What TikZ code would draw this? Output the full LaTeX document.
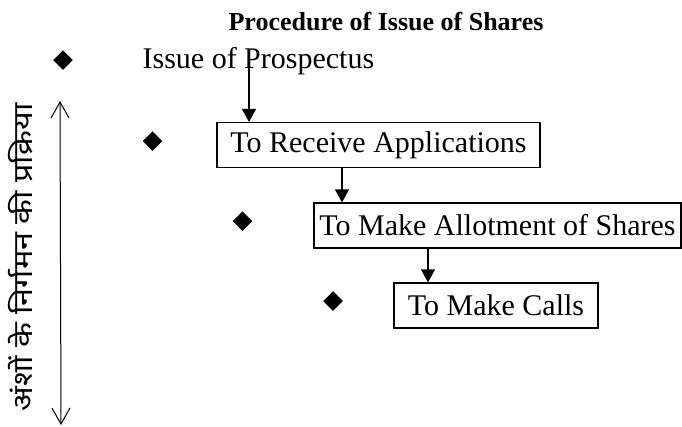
\documentclass[tikz,border=0pt]{standalone}
\usepackage{fontspec}
\setmainfont{Liberation Serif}
\newfontfamily\devfont[Script=Devanagari]{Noto Sans}
\usetikzlibrary{arrows.meta,shapes.geometric,positioning}

\begin{document}
\begin{tikzpicture}[x=1pt,y=1pt,line width=1.2pt,
                    >={Triangle[length=13pt,width=14pt]}]
  \tikzstyle{stage}=[draw,font=\fontsize{30}{36}\selectfont,
                     minimum height=45pt,inner sep=0pt]
  \tikzstyle{plain}=[inner sep=0pt,anchor=base west]
  \tikzstyle{bullet}=[diamond,fill,draw=none,inner sep=0pt,minimum size=20pt]
  \useasboundingbox (0,0) rectangle (682,-426);

  \node[plain,font=\bfseries\fontsize{26}{31}\selectfont] (title) at (228,-30)
       {Procedure of Issue of Shares};
  \node[plain,font=\fontsize{30}{36}\selectfont] (prosp) at (142,-68)
       {Issue of Prospectus};

  \node[stage,minimum width=323pt] (recv)  at (378.5,-145) {To Receive Applications};
  \node[stage,minimum width=367pt] (allot) at (497.5,-225.5) {To Make Allotment of Shares};
  \node[stage,minimum width=204pt] (calls) at (496,-305.5) {To Make Calls};

  \node[bullet] (b1) at (63,-60)    {};
  \node[bullet] (b2) at (152.5,-141) {};
  \node[bullet] (b3) at (242.5,-221) {};
  \node[bullet] (b4) at (333,-301)   {};

  \coordinate (p)  at (249,-62);
  \coordinate (a2) at (342,0);
  \coordinate (a3) at (428,0);
  \draw[->] (p) -- (p |- recv.north);
  \draw[->] (recv.south -| a2) -- (allot.north -| a2);
  \draw[->] (allot.south -| a3) -- (calls.north -| a3);

  % side arrow with the Hindi title
  \coordinate (top) at (60,-101);
  \coordinate (bot) at (61,-425);
  \draw[line width=1pt,{Straight Barb[length=16pt,width=18pt]}-{Straight Barb[length=16pt,width=18pt]}]
       (top) -- (bot);
  \node[yscale=1.2,rotate=90,inner sep=0pt,font=\devfont\fontsize{27}{32}\selectfont] (side)
       at (20.5,-257.5) {अंशों के निर्गमन की प्रक्रिया};
\end{tikzpicture}
\end{document}
